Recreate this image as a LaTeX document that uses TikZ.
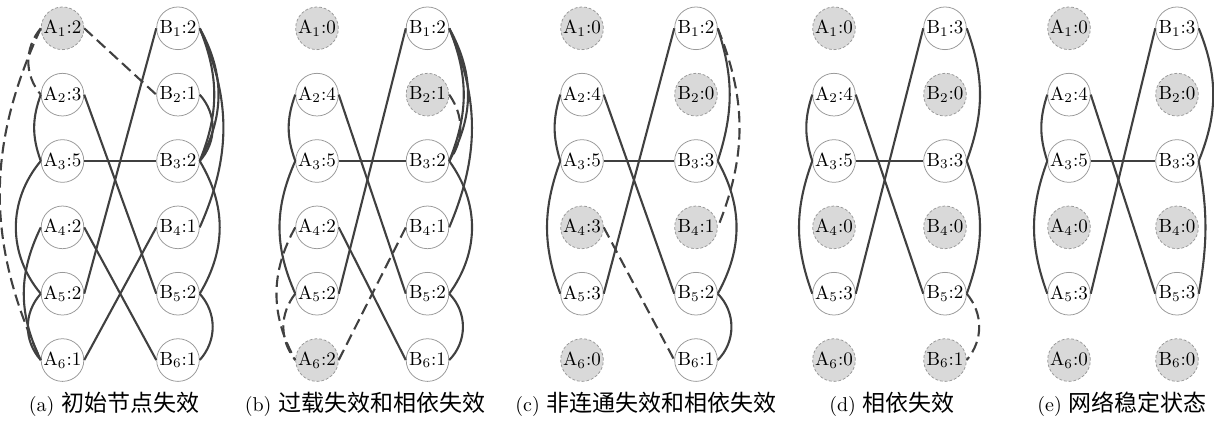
\documentclass[tikz,border=0pt]{standalone}
\usepackage{fontspec}
\newfontfamily\cjk[Scale=1.15]{Noto Sans CJK SC}
\usepackage{tikz}
\tikzset{
    vtx/.style={circle, draw=gray!80, line width=0.4pt, fill=white, minimum size=22.4pt, inner sep=0pt, font=\normalsize},
    dead/.style={vtx, fill=gray!30, dash pattern=on 1.5pt off 1pt},
    link/.style={line width=1.1pt, draw=black!75},
    lost/.style={link, dash pattern=on 6pt off 3pt},
    caption/.style={font=\fontsize{10.5}{13}\selectfont}
}
% failed nodes get the grey dashed look
\newcommand{\putnode}[4]{%
    \ifnum#1=1 \node[dead] (#2) at (#3) {#4};%
    \else \node[vtx] (#2) at (#3) {#4};\fi}

\begin{document}
\begin{tikzpicture}[x=0.525pt, y=0.525pt]
    \useasboundingbox (0,0) rectangle (1214,-428);
    % (a) initial failure
    \foreach \i/\la/\fa/\lb/\fb in {1/2/1/2/0, 2/3/0/1/0, 3/5/0/2/0, 4/2/0/1/0, 5/2/0/2/0, 6/1/0/1/0}{
        \putnode{\fa}{a-A\i}{62.5,{-28.3-66.35*(\i-1)}}{A$_{\i}$:\la}
        \putnode{\fb}{a-B\i}{178,{-28.3-66.35*(\i-1)}}{B$_{\i}$:\lb}
    }
    \draw[lost] (a-A1.east) -- (a-B2.west);
    \draw[link] (a-A2.east) -- (a-B5.west);
    \draw[link] (a-A3.east) -- (a-B3.west);
    \draw[link] (a-A4.east) -- (a-B6.west);
    \draw[link] (a-A5.east) -- (a-B1.west);
    \draw[link] (a-A6.east) -- (a-B4.west);
    \draw[lost] (a-A1.west) to[bend right=40] (a-A2.west);
    \draw[lost] (a-A1.west) to[bend right=25] (a-A6.west);
    \draw[link] (a-A2.west) to[bend right=20] (a-A3.west);
    \draw[link] (a-A3.west) to[bend right=40] (a-A5.west);
    \draw[link] (a-A4.west) to[bend right=26] (a-A6.west);
    \draw[link] (a-A5.west) to[bend right=42] (a-A6.west);
    \draw[link] (a-B1.east) to[bend left=22] (a-B3.east);
    \draw[link] (a-B1.east) to[bend left=29] (a-B3.east);
    \draw[link] (a-B1.east) to[bend left=24] (a-B4.east);
    \draw[link] (a-B2.east) to[bend left=42] (a-B3.east);
    \draw[link] (a-B3.east) to[bend left=31] (a-B5.east);
    \draw[link] (a-B5.east) to[bend left=42] (a-B6.east);
    \node[caption] (cap-a) at (114,-404) {(a) {\cjk 初始节点失效}};

    % (b) overload and dependency failure
    \foreach \i/\la/\fa/\lb/\fb in {1/0/1/2/0, 2/4/0/1/1, 3/5/0/2/0, 4/2/0/1/0, 5/2/0/2/0, 6/2/1/1/0}{
        \putnode{\fa}{b-A\i}{317,{-28.3-66.35*(\i-1)}}{A$_{\i}$:\la}
        \putnode{\fb}{b-B\i}{427.5,{-28.3-66.35*(\i-1)}}{B$_{\i}$:\lb}
    }
    \draw[link] (b-A2.east) -- (b-B5.west);
    \draw[link] (b-A3.east) -- (b-B3.west);
    \draw[link] (b-A4.east) -- (b-B6.west);
    \draw[link] (b-A5.east) -- (b-B1.west);
    \draw[lost] (b-A6.east) -- (b-B4.west);
    \draw[link] (b-A2.west) to[bend right=20] (b-A3.west);
    \draw[link] (b-A3.west) to[bend right=24] (b-A5.west);
    \draw[lost] (b-A4.west) to[bend right=29] (b-A6.west);
    \draw[lost] (b-A5.west) to[bend right=38] (b-A6.west);
    \draw[link] (b-B1.east) to[bend left=22] (b-B3.east);
    \draw[link] (b-B1.east) to[bend left=29] (b-B3.east);
    \draw[link] (b-B1.east) to[bend left=23] (b-B4.east);
    \draw[lost] (b-B2.east) to[bend left=35] (b-B3.east);
    \draw[link] (b-B3.east) to[bend left=36] (b-B5.east);
    \draw[link] (b-B5.east) to[bend left=45] (b-B6.east);
    \node[caption] (cap-b) at (365,-404) {(b) {\cjk 过载失效和相依失效}};

    % (c) disconnection and dependency failure
    \foreach \i/\la/\fa/\lb/\fb in {1/0/1/2/0, 2/4/0/0/1, 3/5/0/3/0, 4/3/1/1/1, 5/3/0/2/0, 6/0/1/1/0}{
        \putnode{\fa}{c-A\i}{582,{-28.3-66.35*(\i-1)}}{A$_{\i}$:\la}
        \putnode{\fb}{c-B\i}{696,{-28.3-66.35*(\i-1)}}{B$_{\i}$:\lb}
    }
    \draw[link] (c-A2.east) -- (c-B5.west);
    \draw[link] (c-A3.east) -- (c-B3.west);
    \draw[lost] (c-A4.east) -- (c-B6.west);
    \draw[link] (c-A5.east) -- (c-B1.west);
    \draw[link] (c-A2.west) to[bend right=17] (c-A3.west);
    \draw[link] (c-A3.west) to[bend right=20] (c-A5.west);
    \draw[link] (c-B1.east) to[bend left=18] (c-B3.east);
    \draw[lost] (c-B1.east) to[bend left=22] (c-B4.east);
    \draw[link] (c-B3.east) to[bend left=29] (c-B5.east);
    \draw[link] (c-B5.east) to[bend left=45] (c-B6.east);
    \node[caption] (cap-c) at (646,-404) {(c) {\cjk 非连通失效和相依失效}};

    % (d) dependency failure
    \foreach \i/\la/\fa/\lb/\fb in {1/0/1/3/0, 2/4/0/0/1, 3/5/0/3/0, 4/0/1/0/1, 5/3/0/2/0, 6/0/1/1/1}{
        \putnode{\fa}{d-A\i}{834,{-28.3-66.35*(\i-1)}}{A$_{\i}$:\la}
        \putnode{\fb}{d-B\i}{945,{-28.3-66.35*(\i-1)}}{B$_{\i}$:\lb}
    }
    \draw[link] (d-A2.east) -- (d-B5.west);
    \draw[link] (d-A3.east) -- (d-B3.west);
    \draw[link] (d-A5.east) -- (d-B1.west);
    \draw[link] (d-A2.west) to[bend right=18] (d-A3.west);
    \draw[link] (d-A3.west) to[bend right=20] (d-A5.west);
    \draw[link] (d-B1.east) to[bend left=20] (d-B3.east);
    \draw[link] (d-B3.east) to[bend left=20] (d-B5.east);
    \draw[lost] (d-B5.east) to[bend left=40] (d-B6.east);
    \node[caption] (cap-d) at (892,-404) {(d) {\cjk 相依失效}};

    % (e) stable state
    \foreach \i/\la/\fa/\lb/\fb in {1/0/1/3/0, 2/4/0/0/1, 3/5/0/3/0, 4/0/1/0/1, 5/3/0/3/0, 6/0/1/0/1}{
        \putnode{\fa}{e-A\i}{1069,{-28.3-66.35*(\i-1)}}{A$_{\i}$:\la}
        \putnode{\fb}{e-B\i}{1177,{-28.3-66.35*(\i-1)}}{B$_{\i}$:\lb}
    }
    \draw[link] (e-A2.east) -- (e-B5.west);
    \draw[link] (e-A3.east) -- (e-B3.west);
    \draw[link] (e-A5.east) -- (e-B1.west);
    \draw[link] (e-A2.west) to[bend right=18] (e-A3.west);
    \draw[link] (e-A3.west) to[bend right=20] (e-A5.west);
    \draw[link] (e-B1.east) to[bend left=22] (e-B3.east);
    \draw[link] (e-B3.east) to[bend left=10] (e-B5.east);
    \node[caption] (cap-e) at (1122,-404) {(e) {\cjk 网络稳定状态}};
\end{tikzpicture}
\end{document}
